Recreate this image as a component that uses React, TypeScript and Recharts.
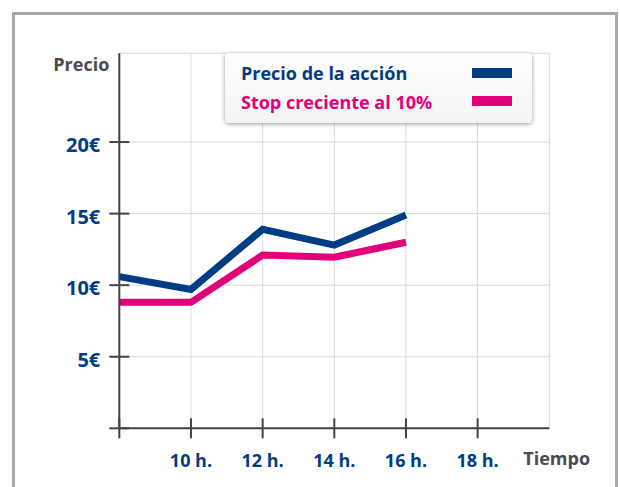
import React from 'react';
import { LineChart, Line, XAxis, YAxis, CartesianGrid } from 'recharts';

const hours = [8, 10, 12, 14, 16];
const precioAccion = [10.6, 9.7, 13.9, 12.8, 14.9];
const stopCreciente = [8.8, 8.8, 12.1, 11.95, 13.0];
const xTicks = [8, 10, 12, 14, 16, 18, 20];
const yTicks = [0, 5, 10, 15, 20];
const seriesNames = ['Precio de la acción', 'Stop creciente al 10%'];

const BLUE = '#003d84';
const PINK = '#e2007a';
const AXIS = '#444448';
const GRAYTXT = '#4a4a50';
const FONT = '"Open Sans", Roboto, sans-serif';

const data = hours.map((h, i) => ({ h, precio: precioAccion[i], stop: stopCreciente[i] }));

const XTick = (props: any) => {
  const { x, y, payload } = props;
  const v = payload.value;
  if (v === 20) return null;
  return (
    <g>
      <line x1={x} y1={y - 10} x2={x} y2={y + 10} stroke={AXIS} strokeWidth={2} />
      {v !== 8 && (
        <text x={x} y={y + 39} textAnchor="middle" fill={BLUE} fontFamily={FONT} fontWeight={700} fontSize={18}>
          {`${v} h.`}
        </text>
      )}
    </g>
  );
};

const YTick = (props: any) => {
  const { x, y, payload } = props;
  const v = payload.value;
  return (
    <g>
      <line x1={x - 10} y1={y} x2={x + 10} y2={y} stroke={AXIS} strokeWidth={2} />
      {v !== 0 && (
        <text x={x - 19} y={y + 10} textAnchor="end" fill={BLUE} fontFamily={FONT} fontWeight={700} fontSize={20}>
          {`${v}€`}
        </text>
      )}
    </g>
  );
};

const LegendBox = () => (
  <div
    style={{
      position: 'absolute',
      left: 225,
      top: 53,
      width: 307,
      height: 70,
      borderRadius: 4,
      background: 'linear-gradient(#ffffff, #f4f4f4)',
      boxShadow: '0 1px 4px rgba(0,0,0,0.4)',
    }}
  >
    <svg width={307} height={70} style={{ position: 'absolute', left: 0, top: 0 }}>
      {[BLUE, PINK].map((c, i) => (
        <g key={i}>
          <text x={16} y={27 + i * 28.5} fill={c} fontFamily={FONT} fontWeight={700} fontSize={18}>
            {seriesNames[i]}
          </text>
          <rect x={247} y={15 + i * 28} width={40} height={10} fill={c} />
        </g>
      ))}
    </svg>
  </div>
);

export default function App() {
  return (
    <div style={{ position: 'absolute', left: 0, top: 0, width: 620, height: 487, overflow: 'hidden', background: '#fff' }}>
      <div
        style={{
          position: 'absolute',
          left: 12,
          top: 12,
          width: 600,
          height: 520,
          border: '3px solid #a8a8a8',
        }}
      />
      <div style={{ position: 'absolute', left: 0, top: 0 }}>
        <LineChart width={620} height={487} data={data} margin={{ top: 53.3, right: 70.7, bottom: 28.7, left: 59.3 }}>
          <CartesianGrid stroke="#d9d9d9" strokeWidth={1} />
          <XAxis
            dataKey="h"
            type="number"
            domain={[8, 20]}
            ticks={xTicks}
            interval={0}
            height={30}
            tickSize={0}
            tickMargin={0}
            tickLine={false}
            axisLine={{ stroke: AXIS, strokeWidth: 2 }}
            tick={<XTick />}
            label={{
              content: (p: any) => (
                <text x={p.viewBox.x + p.viewBox.width - 26} y={p.viewBox.y + 37} fill={GRAYTXT} fontFamily={FONT} fontWeight={700} fontSize={18}>
                  Tiempo
                </text>
              ),
            }}
          />
          <YAxis
            type="number"
            domain={[0, 26.2]}
            ticks={yTicks}
            interval={0}
            width={60}
            tickSize={0}
            tickMargin={0}
            tickLine={false}
            axisLine={{ stroke: AXIS, strokeWidth: 2 }}
            tick={<YTick />}
            label={{
              content: (p: any) => (
                <text x={p.viewBox.x + p.viewBox.width - 10} y={p.viewBox.y + 18} textAnchor="end" fill={GRAYTXT} fontFamily={FONT} fontWeight={700} fontSize={18}>
                  Precio
                </text>
              ),
            }}
          />
          <Line
            type="linear"
            dataKey="stop"
            name={seriesNames[1]}
            stroke={PINK}
            strokeWidth={7}
            strokeLinejoin="miter"
            dot={false}
            activeDot={false}
            isAnimationActive={false}
          />
          <Line
            type="linear"
            dataKey="precio"
            name={seriesNames[0]}
            stroke={BLUE}
            strokeWidth={7}
            strokeLinejoin="miter"
            dot={false}
            activeDot={false}
            isAnimationActive={false}
          />
        </LineChart>
      </div>
      <LegendBox />
    </div>
  );
}
